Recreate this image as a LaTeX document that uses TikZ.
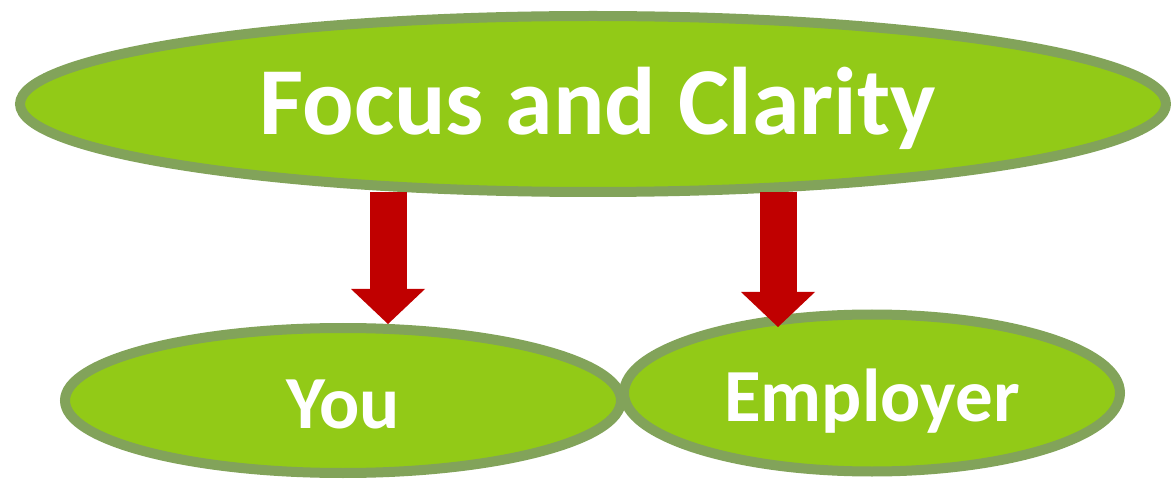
\documentclass[tikz,border=0pt]{standalone}
\usepackage{fontspec}
\setmainfont{Carlito}
\usetikzlibrary{arrows.meta, positioning, shapes.geometric}
\definecolor{leafgreen}{RGB}{146,202,23}
\definecolor{leafborder}{RGB}{130,163,90}
\definecolor{arrowred}{RGB}{192,0,0}

\begin{document}
\begin{tikzpicture}[
  x=1pt, y=1pt,
  bubble/.style = {ellipse, draw=leafborder, fill=leafgreen, line width=10pt,
                   inner sep=0pt, outer sep=0pt, text=white, text depth=0pt},
  downarrow/.style = {draw=arrowred, line width=37pt,
                      -{Triangle[length=35pt, width=74pt, line width=0pt]}}
]
  \useasboundingbox (0,0) rectangle (1171,-481);

  % Goal
  \node[bubble, minimum width=1146pt, minimum height=176pt, text height=62pt,
        font=\bfseries\fontsize{96}{96}\selectfont] (focus) at (593,-104) {\hspace*{10pt}Focus and Clarity};

  % The two sides
  \node[bubble, minimum width=556pt, minimum height=145pt, text height=55pt,
        font=\bfseries\fontsize{75}{75}\selectfont] (you) at (343,-400.5) {You};
  \node[bubble, minimum width=496pt, minimum height=157pt, text height=56pt,
        font=\bfseries\fontsize{75}{75}\selectfont] (employer) at (872,-393) {Employer};

  % focus -> you, focus -> employer
  \coordinate (youtip) at (388,-324);
  \coordinate (employertip) at (778,-327);
  \draw[downarrow] (focus.south -| youtip) -- (youtip);
  \draw[downarrow] (focus.south -| employertip) -- (employertip);

\end{tikzpicture}
\end{document}
